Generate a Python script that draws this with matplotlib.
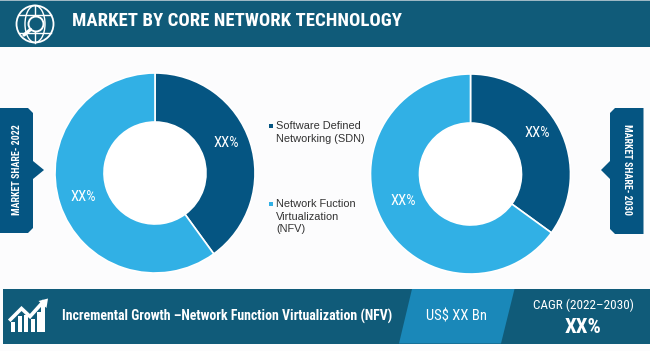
from matplotlib import pyplot as plt
from matplotlib.patches import Polygon, Circle, Rectangle, Ellipse

# data
segments = ['Software Defined\nNetworking (SDN)', 'Network Fuction\nVirtualization\n(NFV)']
share_2022 = [40, 60]
share_2030 = [35, 65]
pct_label = 'XX%'
title = 'MARKET BY CORE NETWORK TECHNOLOGY'
tag_left = 'MARKET SHARE- 2022'
tag_right = 'MARKET SHARE- 2030'
growth_text = 'Incremental Growth \u2013Network Function Virtualization (NFV)'
value_text = 'US$ XX Bn'
cagr_text = 'CAGR (2022\u20132030)'
cagr_value = 'XX%'

DARK = '#055582'
LIGHT = '#31b0e5'
BAND = '#105b79'
MID = '#1a88b9'
NARROW = ['Roboto Condensed', 'DejaVu Sans']
W, H = 650, 351

fig = plt.figure(figsize=(W / 100, H / 100), dpi=100, facecolor='#fcfcfd')

# whole figure overlay in pixel coords
ax = fig.add_axes([0, 0, 1, 1], zorder=2)
ax.set_xlim(0, W)
ax.set_ylim(H, 0)
ax.axis('off')
ax.patch.set_alpha(0)


def donut(values, cx, cy, r):
	a = fig.add_axes([(cx - r) / W, 1 - (cy + r) / H, 2 * r / W, 2 * r / H], zorder=1)
	a.pie(values, colors=[DARK, LIGHT], startangle=90, counterclock=False, radius=1,
		wedgeprops=dict(width=0.49, edgecolor='white', linewidth=1.2))
	a.set_xlim(-1, 1)
	a.set_ylim(-1, 1)
	a.add_patch(Circle((0, 0), 0.51, fc='white', ec='none'))


donut(share_2022, 155, 173, 100)
donut(share_2030, 470.5, 174, 100)

for x, y in [(226, 143), (83, 197), (537, 133), (403, 201)]:
	ax.text(x, y, pct_label, color='white', fontsize=10.5, family=NARROW, ha='center', va='center')

# header
ax.add_patch(Rectangle((0, 0), W, 46.5, fc=BAND, ec='none'))
ax.add_patch(Rectangle((0, 0), W, 1.2, fc='#9db8c4', ec='none'))
ax.text(72, 20.5, title, color='white', fontsize=13.5, fontweight='bold', family=NARROW, va='center')

# globe icon
ax.add_patch(Circle((35, 24), 18.5, fc='none', ec='white', lw=1.3))
ax.add_patch(Ellipse((35, 24), 20, 37, fc='none', ec='white', lw=1))
ax.plot([35, 35], [5.5, 42.5], color='white', lw=1)
ax.plot([19, 51], [15, 15], color='white', lw=1)
ax.plot([19, 51], [33, 33], color='white', lw=1)
ax.add_patch(Circle((36, 24), 7.5, fc=BAND, ec='white', lw=1.4, zorder=3))
ax.plot([30.5, 24], [29.5, 35], color='white', lw=2.4, solid_capstyle='round', zorder=3)

# side tags
ax.add_patch(Polygon([(0, 108), (28, 108), (33, 113), (33, 161), (44, 170), (33, 179), (33, 228), (28, 233), (0, 233)],
	fc=DARK, ec='none'))
ax.add_patch(Polygon([(643.5, 108), (615, 108), (610, 113), (610, 161), (601, 170), (610, 179), (610, 229), (615, 234), (643.5, 234)],
	fc=DARK, ec='none'))
ax.text(17, 169.5, tag_left, color='white', fontsize=7.1, fontweight='bold', family=NARROW, rotation=90, ha='center', va='center')
ax.text(627, 169.5, tag_right, color='white', fontsize=7.1, fontweight='bold', family=NARROW, rotation=270, ha='center', va='center')

# legend
ax.add_patch(Rectangle((268.5, 124), 4, 4, fc=DARK, ec='none'))
ax.add_patch(Rectangle((268.5, 202), 4, 4, fc=LIGHT, ec='none'))
ax.text(276, 132.5, segments[0], color='#333333', fontsize=7.9, family='Liberation Sans', va='center', linespacing=1.3)
ax.text(276, 216.5, segments[1], color='#333333', fontsize=7.9, family='Liberation Sans', va='center', linespacing=1.3)

# bottom band
ax.add_patch(Rectangle((3, 289), 647, 54.5, fc=BAND, ec='none'))
ax.add_patch(Polygon([(412, 289), (514.5, 289), (501, 343.5), (399, 343.5)], fc=MID, ec='none'))

# growth icon
for x0, top in [(11, 322), (17.5, 316), (24, 315), (30.5, 319), (37, 312), (41, 305)]:
	ax.add_patch(Rectangle((x0, top), 4.4, 331.5 - top, fc='white', ec='none'))
ax.plot([10.5, 21.5, 30, 43], [319.5, 308.5, 316.5, 302], color='white', lw=2.6, solid_joinstyle='miter')
ax.add_patch(Polygon([(48, 298.5), (46.5, 308), (38.5, 301)], fc='white', ec='none'))

ax.text(61.5, 316, growth_text, color='white', fontsize=10, fontweight='bold', family=NARROW, va='center')
ax.text(457, 316, value_text, color='white', fontsize=10.5, family=NARROW, ha='center', va='center')
ax.text(583, 305, cagr_text, color='white', fontsize=9.5, family=NARROW, ha='center', va='center')
ax.text(583, 327.5, cagr_value, color='white', fontsize=15, fontweight='bold', family=NARROW, ha='center', va='center')

plt.savefig('out.png', dpi=100, facecolor=fig.get_facecolor())
